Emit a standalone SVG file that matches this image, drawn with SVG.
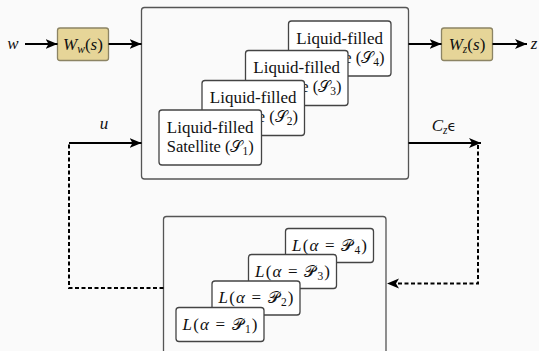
<svg xmlns="http://www.w3.org/2000/svg" width="539" height="351" viewBox="0 0 539 351">
<defs>
<style>
.bg{fill:#fafafa}
.outer{fill:#fafafa;stroke:#555;stroke-width:1.3}
.inner{fill:#ffffff;stroke:#444;stroke-width:1.3}
.wt{fill:#e6d598;stroke:#8c8464;stroke-width:1.3}
.t{font-size:16.5px;fill:#111;text-anchor:middle}
.te{font-size:16.5px;fill:#111;text-anchor:end}
.m{font-style:italic;font-size:17px;fill:#111;text-anchor:middle}
.up{font-style:normal}
.sub{font-size:11.5px}
.cal{font-style:normal;font-size:15.5px}
.ln{fill:none;stroke:#000;stroke-width:2}
.ds{fill:none;stroke:#000;stroke-width:2;stroke-dasharray:4 2.5}
</style>
<marker id="ah" markerUnits="userSpaceOnUse" viewBox="0 0 12 10" refX="12" refY="5" markerWidth="12" markerHeight="10" orient="auto">
<path d="M0,0 L12,5 L0,10 L3,5 z" fill="#000"/>
</marker>
</defs>
<rect class="bg" x="0" y="0" width="539" height="351"/>

<g id="sat-block">
<rect class="outer" x="141.5" y="7.5" width="267" height="171.5" rx="3"/>
</g>
<g id="sat4">
<rect class="inner" x="288.5" y="21" width="102.5" height="55" rx="3"/>
<text class="t" font-family="Liberation Serif" x="339.7" y="43.5" textLength="86.7" lengthAdjust="spacingAndGlyphs">Liquid-filled</text>
<text class="te" font-family="Liberation Serif" x="384.5" y="62.5">e (<tspan class="cal" font-family="DejaVu Sans">𝒮</tspan><tspan class="sub" dy="3">4</tspan><tspan dy="-3">)</tspan></text>
</g>
<g id="sat3">
<rect class="inner" x="245.5" y="50.5" width="102.5" height="55" rx="3"/>
<text class="t" font-family="Liberation Serif" x="296.7" y="73" textLength="86.7" lengthAdjust="spacingAndGlyphs">Liquid-filled</text>
<text class="te" font-family="Liberation Serif" x="341.5" y="92">e (<tspan class="cal" font-family="DejaVu Sans">𝒮</tspan><tspan class="sub" dy="3">3</tspan><tspan dy="-3">)</tspan></text>
</g>
<g id="sat2">
<rect class="inner" x="202" y="80.5" width="102.5" height="55" rx="3"/>
<text class="t" font-family="Liberation Serif" x="253.2" y="103" textLength="86.7" lengthAdjust="spacingAndGlyphs">Liquid-filled</text>
<text class="te" font-family="Liberation Serif" x="298" y="122">e (<tspan class="cal" font-family="DejaVu Sans">𝒮</tspan><tspan class="sub" dy="3">2</tspan><tspan dy="-3">)</tspan></text>
</g>
<g id="sat1">
<rect class="inner" x="159" y="110" width="102.5" height="55" rx="3"/>
<text class="t" font-family="Liberation Serif" x="210.2" y="132.5" textLength="86.7" lengthAdjust="spacingAndGlyphs">Liquid-filled</text>
<text class="t" font-family="Liberation Serif" x="210.2" y="151.5">Satellite (<tspan class="cal" font-family="DejaVu Sans">𝒮</tspan><tspan class="sub" dy="3">1</tspan><tspan dy="-3">)</tspan></text>
</g>

<g id="ctrl-block">
<rect class="outer" x="163.5" y="216.5" width="222.5" height="145" rx="3"/>
</g>
<g id="L4">
<rect class="inner" x="285.5" y="228.5" width="88" height="34" rx="3"/>
<text class="m" font-family="Liberation Serif" x="329.5" y="250.5" textLength="75" lengthAdjust="spacing">L<tspan class="up">(</tspan>α <tspan class="up">=</tspan> <tspan class="cal" font-family="DejaVu Sans">𝒫</tspan><tspan class="sub up" dy="3">4</tspan><tspan class="up" dy="-3">)</tspan></text>
</g>
<g id="L3">
<rect class="inner" x="248.5" y="254.5" width="88" height="34" rx="3"/>
<text class="m" font-family="Liberation Serif" x="292.5" y="276.5" textLength="75" lengthAdjust="spacing">L<tspan class="up">(</tspan>α <tspan class="up">=</tspan> <tspan class="cal" font-family="DejaVu Sans">𝒫</tspan><tspan class="sub up" dy="3">3</tspan><tspan class="up" dy="-3">)</tspan></text>
</g>
<g id="L2">
<rect class="inner" x="212" y="281" width="88" height="34" rx="3"/>
<text class="m" font-family="Liberation Serif" x="256" y="303" textLength="75" lengthAdjust="spacing">L<tspan class="up">(</tspan>α <tspan class="up">=</tspan> <tspan class="cal" font-family="DejaVu Sans">𝒫</tspan><tspan class="sub up" dy="3">2</tspan><tspan class="up" dy="-3">)</tspan></text>
</g>
<g id="L1">
<rect class="inner" x="176" y="307.5" width="88" height="34" rx="3"/>
<text class="m" font-family="Liberation Serif" x="220" y="329.5" textLength="75" lengthAdjust="spacing">L<tspan class="up">(</tspan>α <tspan class="up">=</tspan> <tspan class="cal" font-family="DejaVu Sans">𝒫</tspan><tspan class="sub up" dy="3">1</tspan><tspan class="up" dy="-3">)</tspan></text>
</g>

<g id="Ww">
<rect class="wt" x="57.5" y="28" width="51" height="32.5" rx="2.5"/>
<text class="m" font-family="Liberation Serif" x="83" y="49.5">W<tspan class="sub" dy="3">w</tspan><tspan class="up" dy="-3">(</tspan>s<tspan class="up">)</tspan></text>
</g>
<g id="Wz">
<rect class="wt" x="441.5" y="28" width="51" height="32.5" rx="2.5"/>
<text class="m" font-family="Liberation Serif" x="467" y="49.5">W<tspan class="sub" dy="3">z</tspan><tspan class="up" dy="-3">(</tspan>s<tspan class="up">)</tspan></text>
</g>

<g id="labels">
<text class="m" font-family="Liberation Serif" x="13" y="48.5">w</text>
<text class="m" font-family="Liberation Serif" x="534" y="48.5">z</text>
<text class="m" font-family="Liberation Serif" x="104" y="128.5">u</text>
<text class="m" font-family="Liberation Serif" x="444" y="130.5">C<tspan class="sub" dy="3">z</tspan><tspan class="up" dy="-3" font-family="DejaVu Sans" font-size="14">ϵ</tspan></text>
</g>

<g id="connectors">
<line class="ln" x1="25" y1="44" x2="57.5" y2="44" marker-end="url(#ah)"/>
<line class="ln" x1="108.5" y1="44" x2="141.5" y2="44" marker-end="url(#ah)"/>
<line class="ln" x1="408.5" y1="44" x2="441.5" y2="44" marker-end="url(#ah)"/>
<line class="ln" x1="492.5" y1="44" x2="527" y2="44" marker-end="url(#ah)"/>
<line class="ln" x1="408.5" y1="143" x2="481" y2="143" marker-end="url(#ah)"/>
<polyline class="ds" points="478,145 478,283.5 390,283.5"/>
<path d="M387,283.5 L399,278.5 L396,283.5 L399,288.5 z" fill="#000"/>
<line class="ln" x1="69" y1="143" x2="141.5" y2="143" marker-end="url(#ah)"/>
<polyline class="ds" points="163.5,288 69,288 69,143"/>
</g>
</svg>
